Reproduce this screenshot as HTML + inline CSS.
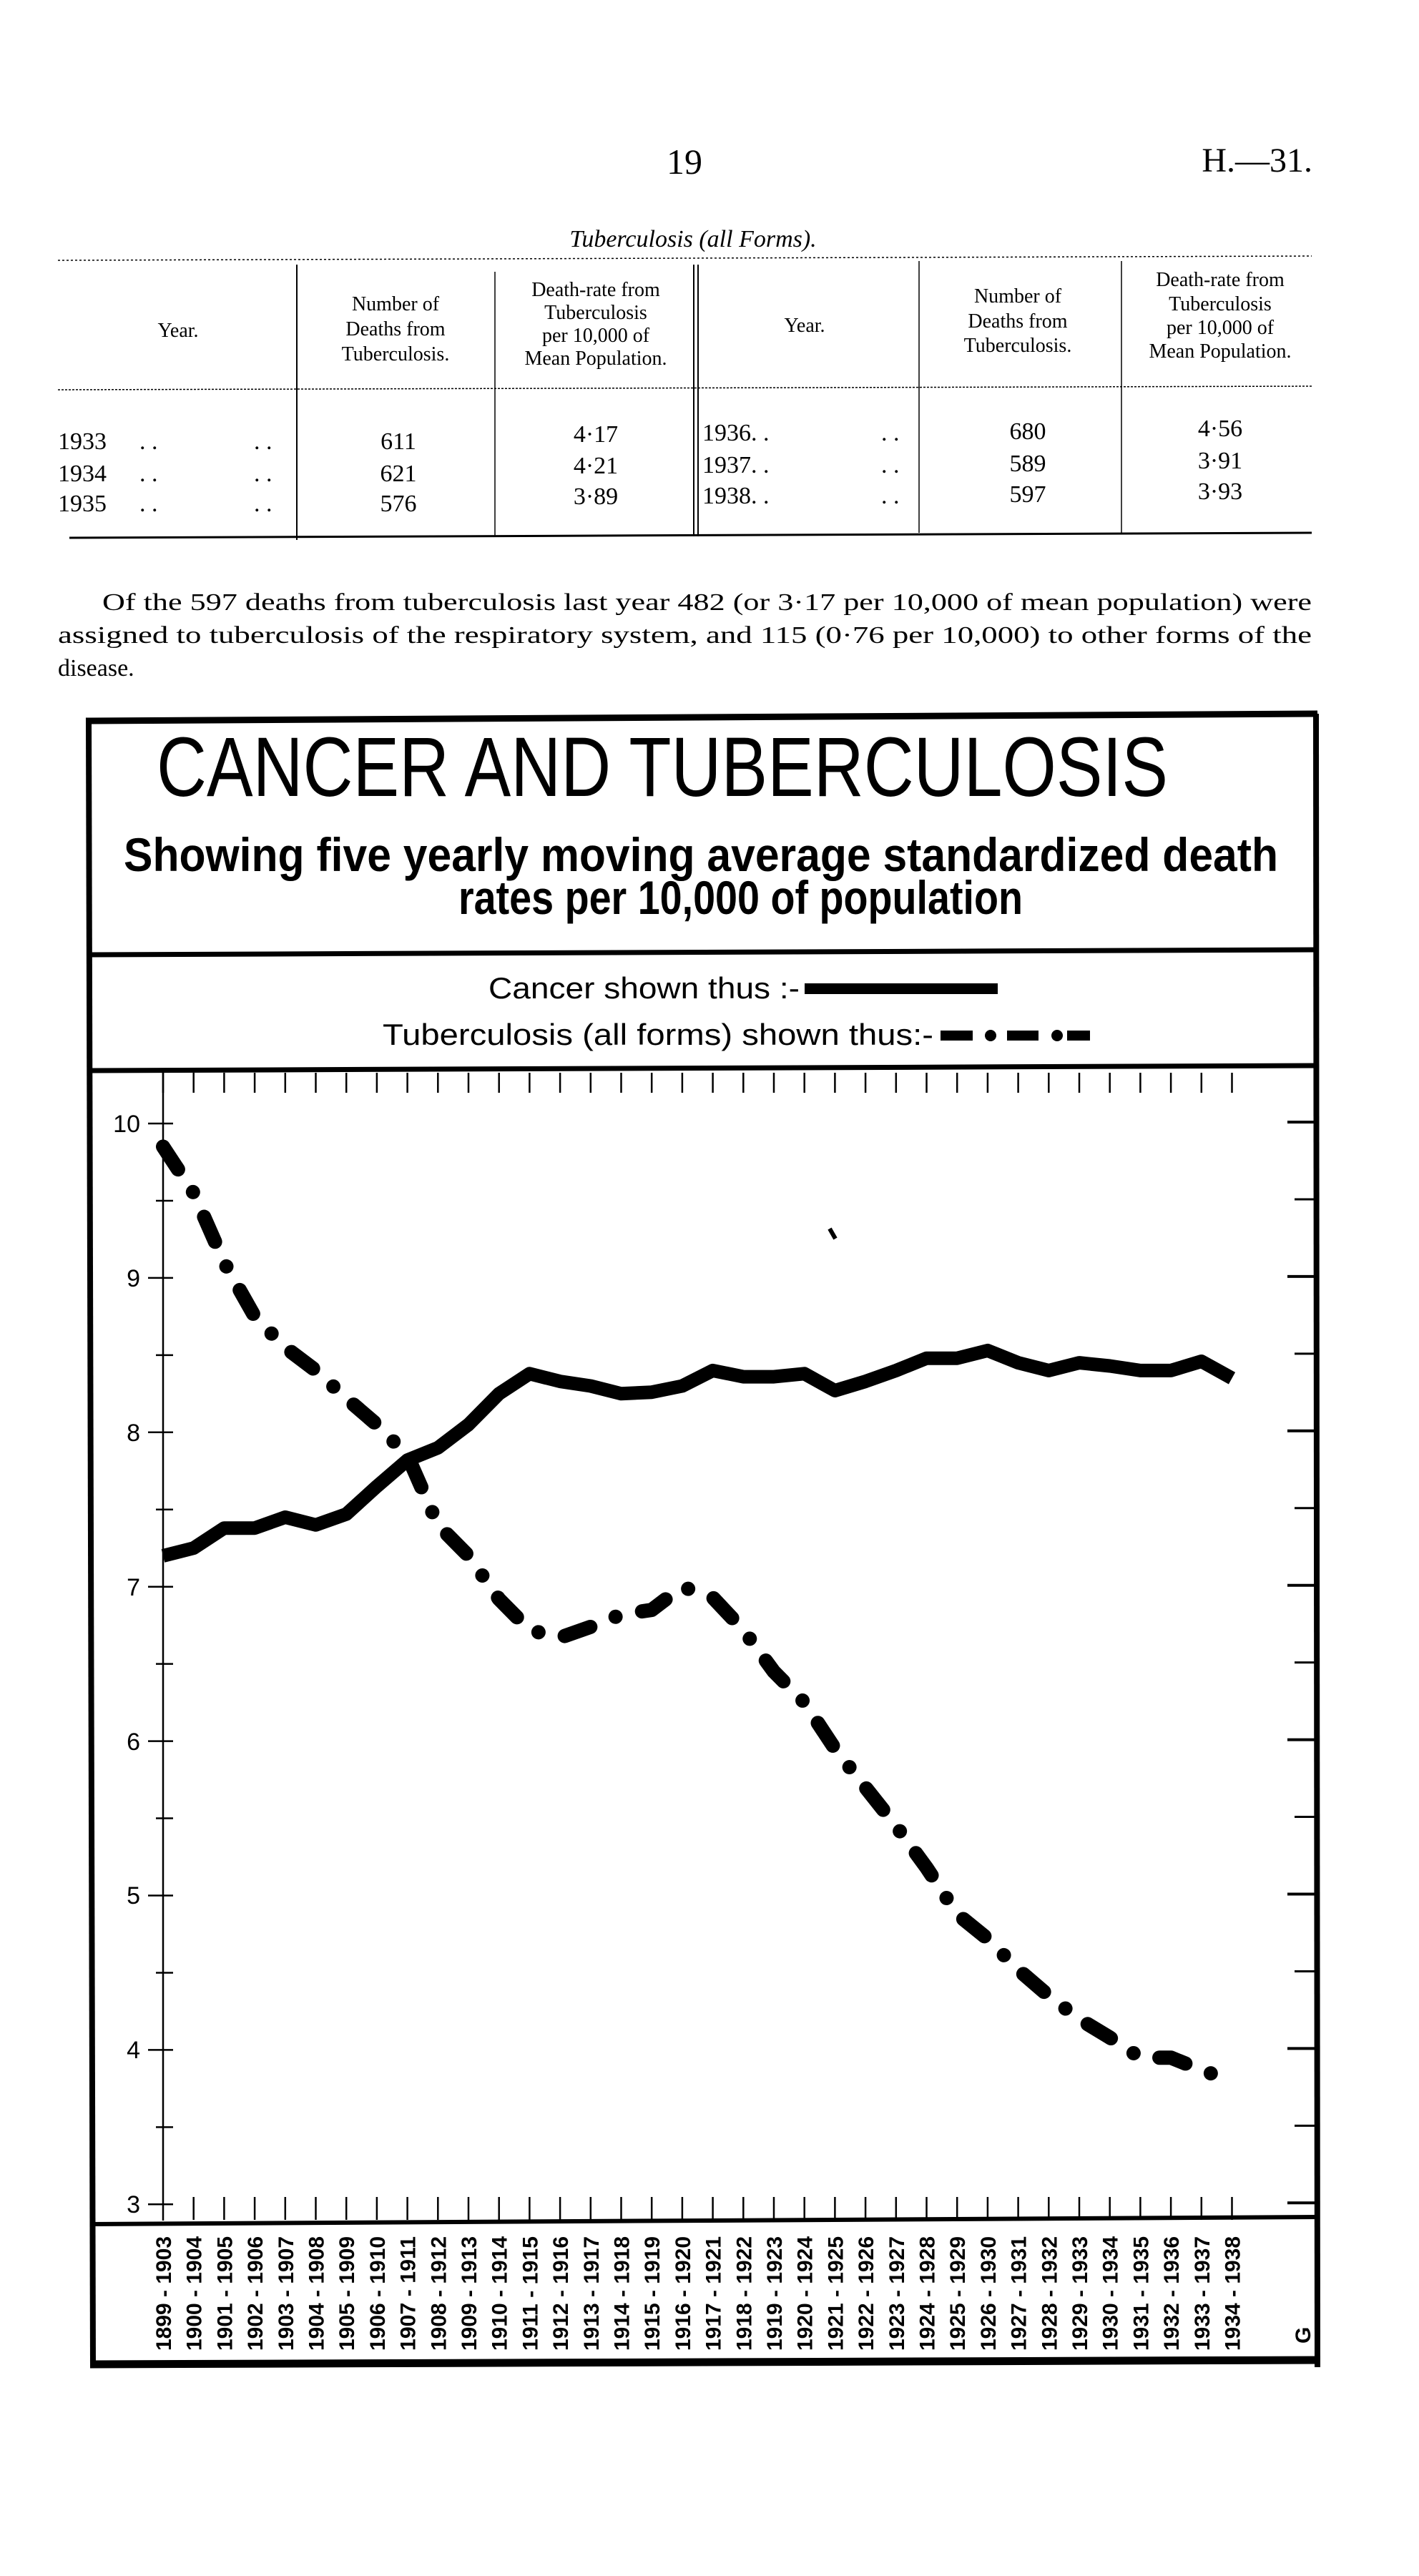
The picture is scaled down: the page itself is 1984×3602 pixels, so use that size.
<!DOCTYPE html>
<html><head><meta charset="utf-8"><style>
html,body{margin:0;padding:0;background:#fff;}
svg{display:block}
</style></head><body>
<svg width="1984" height="3602" viewBox="0 0 1984 3602" xmlns="http://www.w3.org/2000/svg">
<rect width="1984" height="3602" fill="#fff"/>
<g font-family="Liberation Serif, serif" fill="#000">
<text x="957" y="243" font-size="50" text-anchor="middle">19</text>
<text x="1835" y="240" font-size="48" text-anchor="end">H.—31.</text>
<text x="969" y="345" font-size="34" font-style="italic" text-anchor="middle">Tuberculosis (all Forms).</text>
</g>
<g stroke="#000" fill="none">
<line x1="81" y1="364" x2="1834" y2="358" stroke-width="1.5" stroke-dasharray="3 3"/>
<line x1="81" y1="545" x2="1834" y2="540" stroke-width="1.5" stroke-dasharray="3 2"/>
<line x1="97" y1="752" x2="1834" y2="745" stroke-width="3"/>
<line x1="415" y1="370" x2="415" y2="755" stroke-width="2"/>
<line x1="692" y1="380" x2="692" y2="750" stroke-width="1.5"/>
<line x1="970" y1="370" x2="970" y2="750" stroke-width="2"/>
<line x1="976" y1="370" x2="976" y2="750" stroke-width="2"/>
<line x1="1285" y1="365" x2="1285" y2="745" stroke-width="1.5"/>
<line x1="1568" y1="365" x2="1568" y2="745" stroke-width="1.5"/>
</g>
<g font-family="Liberation Serif, serif" font-size="28" fill="#000" text-anchor="middle">
<text x="249" y="471">Year.</text>
<text x="553" y="434">Number of</text><text x="553" y="469">Deaths from</text><text x="553" y="504">Tuberculosis.</text>
<text x="833" y="414">Death-rate from</text><text x="833" y="446">Tuberculosis</text><text x="833" y="478">per 10,000 of</text><text x="833" y="510">Mean Population.</text>
<text x="1125" y="464">Year.</text>
<text x="1423" y="423">Number of</text><text x="1423" y="458">Deaths from</text><text x="1423" y="492">Tuberculosis.</text>
<text x="1706" y="400">Death-rate from</text><text x="1706" y="434">Tuberculosis</text><text x="1706" y="467">per 10,000 of</text><text x="1706" y="500">Mean Population.</text>
</g>
<g font-family="Liberation Serif, serif" font-size="34" fill="#000">
<text x="81" y="628">1933</text><text x="81" y="673">1934</text><text x="81" y="715">1935</text>
<text x="195" y="628">. .</text><text x="195" y="673">. .</text><text x="195" y="715">. .</text>
<text x="355" y="628">. .</text><text x="355" y="673">. .</text><text x="355" y="715">. .</text>
<g text-anchor="middle">
<text x="557" y="628">611</text><text x="557" y="673">621</text><text x="557" y="715">576</text>
<text x="833" y="618">4·17</text><text x="833" y="662">4·21</text><text x="833" y="705">3·89</text>
<text x="1437" y="614">680</text><text x="1437" y="659">589</text><text x="1437" y="702">597</text>
<text x="1706" y="610">4·56</text><text x="1706" y="655">3·91</text><text x="1706" y="698">3·93</text>
</g>
<text x="982" y="616">1936. .</text><text x="982" y="661">1937. .</text><text x="982" y="704">1938. .</text>
<text x="1232" y="616">. .</text><text x="1232" y="661">. .</text><text x="1232" y="704">. .</text>
<text x="143" y="853" textLength="1691" lengthAdjust="spacingAndGlyphs">Of the 597 deaths from tuberculosis last year 482 (or 3·17 per 10,000 of mean population) were</text>
<text x="81" y="899" textLength="1753" lengthAdjust="spacingAndGlyphs">assigned to tuberculosis of the respiratory system, and 115 (0·76 per 10,000) to other forms of the</text>
<text x="81" y="945">disease.</text>
</g>

<g stroke="#000" fill="none">
<line x1="120" y1="1008" x2="1842" y2="998" stroke-width="9"/>
<line x1="124" y1="1004" x2="130" y2="3310" stroke-width="8"/>
<line x1="1840" y1="998" x2="1842" y2="3310" stroke-width="8"/>
<line x1="126" y1="3306" x2="1846" y2="3300" stroke-width="11"/>
<line x1="122" y1="1335" x2="1842" y2="1328" stroke-width="7"/>
<line x1="122" y1="1497" x2="1842" y2="1490" stroke-width="7"/>
<line x1="128" y1="3110" x2="1842" y2="3100" stroke-width="6"/>
</g>
<g font-family="Liberation Sans Narrow, Liberation Sans, sans-serif" fill="#000">
<text x="219" y="1113" font-size="118" textLength="1414" lengthAdjust="spacingAndGlyphs">CANCER AND TUBERCULOSIS</text>
<text x="173" y="1218" font-size="66" font-weight="bold" textLength="1614" lengthAdjust="spacingAndGlyphs">Showing five yearly moving average standardized death</text>
<text x="641" y="1278" font-size="66" font-weight="bold" textLength="789" lengthAdjust="spacingAndGlyphs">rates per 10,000 of population</text>
<text x="683" y="1396" font-size="42" textLength="435" lengthAdjust="spacingAndGlyphs">Cancer shown thus :-</text>
<text x="535" y="1461" font-size="42" textLength="770" lengthAdjust="spacingAndGlyphs">Tuberculosis (all forms) shown thus:-</text>
</g>
<rect x="1125" y="1375" width="270" height="15" fill="#000"/>
<rect x="1315" y="1441" width="45" height="14" fill="#000"/>
<circle cx="1385" cy="1448" r="8" fill="#000"/>
<rect x="1408" y="1441" width="44" height="14" fill="#000"/>
<circle cx="1478" cy="1448" r="8" fill="#000"/>
<rect x="1492" y="1441" width="32" height="14" fill="#000"/>

<g stroke="#000" fill="none" stroke-width="2.5">
<line x1="228" y1="1500" x2="228" y2="3105"/>
</g>
<g id="axisg" stroke="#000" stroke-width="2.5"></g>
<g font-family="Liberation Sans, sans-serif" font-size="34" fill="#000" text-anchor="end">
<text x="196" y="1583">10</text><text x="196" y="1799">9</text><text x="196" y="2015">8</text><text x="196" y="2231">7</text><text x="196" y="2447">6</text><text x="196" y="2662">5</text><text x="196" y="2878">4</text><text x="196" y="3094">3</text>
</g>
<g id="xlab" font-family="Liberation Sans, sans-serif" font-size="30" font-weight="bold" fill="#000"></g>
<polyline id="cancer" fill="none" stroke="#000" stroke-width="19" stroke-linejoin="round"/>
<polyline id="tb" fill="none" stroke="#000" stroke-width="20" stroke-linecap="round" stroke-linejoin="round" stroke-dasharray="38 38 0.01 38"/>
<line x1="1160" y1="1718" x2="1168" y2="1732" stroke="#000" stroke-width="6"/>
<text x="1810" y="3275" font-family="Liberation Sans, sans-serif" font-size="30" font-weight="bold" transform="rotate(-90 1822 3265)">G</text>
</svg>
<script>
var NS="http://www.w3.org/2000/svg";
function Y(v){return 1571+(10-v)*215.9;}
function X(i){return 228+42.7*i;}
var ax=document.getElementById('axisg');
function ln(x1,y1,x2,y2,w){var l=document.createElementNS(NS,'line');l.setAttribute('x1',x1);l.setAttribute('y1',y1);l.setAttribute('x2',x2);l.setAttribute('y2',y2);if(w)l.setAttribute('stroke-width',w);ax.appendChild(l);}
for(var v=3;v<=10.01;v+=0.5){var y=Y(v);var maj=Math.abs(v-Math.round(v))<0.01;
 ln(maj?207:218,y,242,y);ln(maj?1800:1810,y-2,1838,y-2,maj?4:3);}
var xl=document.getElementById('xlab');
for(var i=0;i<36;i++){var x=X(i);ln(x,1500,x,1528);if(i>0)ln(x,3072,x,3104);
 var t=document.createElementNS(NS,'text');var yy=3287;
 t.setAttribute('x',x+11);t.setAttribute('y',yy);t.setAttribute('transform','rotate(-90 '+(x+11)+' '+yy+')');
 t.setAttribute('textLength','160');t.setAttribute('lengthAdjust','spacingAndGlyphs');
 t.textContent=(1899+i)+' - '+(1903+i);xl.appendChild(t);}
var C=[7.2,7.25,7.38,7.38,7.45,7.4,7.47,7.65,7.82,7.9,8.05,8.25,8.38,8.33,8.3,8.25,8.26,8.3,8.4,8.36,8.36,8.38,8.27,8.33,8.4,8.48,8.48,8.53,8.45,8.4,8.45,8.43,8.4,8.4,8.46,8.35];
var T=[9.85,9.55,9.1,8.75,8.55,8.4,8.22,8.05,7.85,7.4,7.2,6.92,6.72,6.67,6.74,6.82,6.85,7.0,6.93,6.72,6.45,6.25,5.95,5.7,5.45,5.18,4.88,4.72,4.52,4.35,4.2,4.08,3.95,3.95,3.87,3.8];
function pts(a){return a.map(function(v,i){return X(i).toFixed(1)+','+Y(v).toFixed(1);}).join(' ');}
document.getElementById('cancer').setAttribute('points',pts(C));
document.getElementById('tb').setAttribute('points',pts(T));
</script>
</body></html>
